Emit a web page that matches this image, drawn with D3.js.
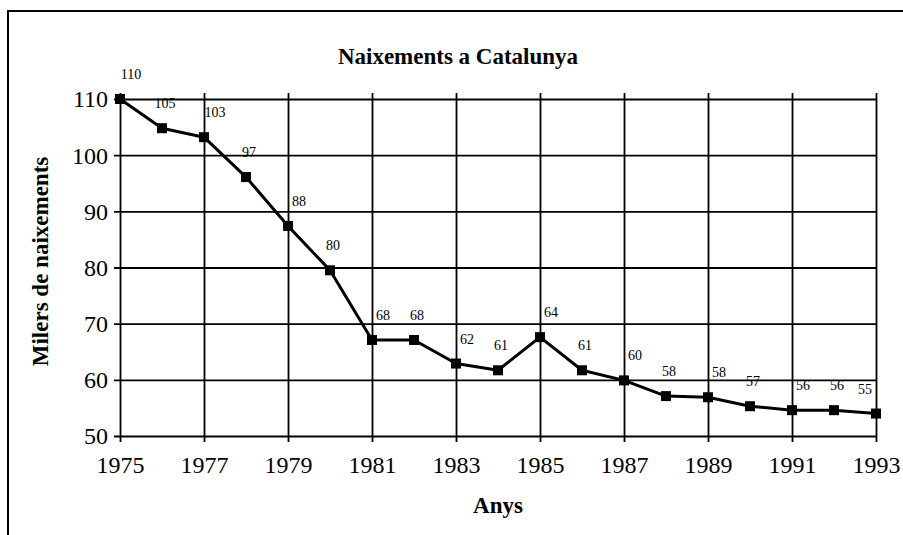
<!DOCTYPE html>
<html lang="ca">
<head>
    <meta charset="UTF-8">
    <title>Naixements a Catalunya</title>
    <script src="https://d3js.org/d3.v7.min.js"></script>
    <style>
        body { margin: 0; background: #fff; }
        svg { display: block; font-family: "Liberation Serif", "Times New Roman", serif; }
    </style>
</head>
<body>
<div id="chart"></div>

<script>
    // values (thousands of births)
    const years = [1975, 1976, 1977, 1978, 1979, 1980, 1981, 1982, 1983, 1984,
                   1985, 1986, 1987, 1988, 1989, 1990, 1991, 1992, 1993];
    const births = [110, 104.8, 103.2, 96.1, 87.4, 79.5, 67.1, 67.1, 62.9, 61.7,
                    67.6, 61.7, 59.9, 57.1, 56.9, 55.3, 54.6, 54.6, 54.0];
    // the printed labels, as they stand in the picture
    const pointLabels = [110, 105, 103, 97, 88, 80, 68, 68, 62, 61,
                         64, 61, 60, 58, 58, 57, 56, 56, 55];
    const yTicks = [50, 60, 70, 80, 90, 100, 110];
    const xTicks = [1975, 1977, 1979, 1981, 1983, 1985, 1987, 1989, 1991, 1993];

    const W = 903, H = 535;
    const plotL = 120, plotR = 876, plotT = 99, plotB = 436;

    const svg = d3.select("#chart").append("svg")
        .attr("width", W)
        .attr("height", H);

    // frame, only top and left edges are visible in the picture
    svg.append("path")
        .attr("d", `M8,${H} L8,11 L${W},11`)
        .attr("fill", "none")
        .attr("stroke", "#000")
        .attr("stroke-width", 2);

    const x = d3.scaleLinear().domain([1975, 1993]).range([plotL, plotR]);
    const y = d3.scaleLinear().domain([50, 110]).range([plotB, plotT]);

    // horizontal grid + y labels
    const yAxis = svg.append("g")
        .attr("transform", `translate(${plotL},0)`)
        .call(d3.axisLeft(y).tickValues(yTicks).tickSize(6).tickPadding(6));
    yAxis.select(".domain").remove();
    yAxis.selectAll(".tick line")
        .attr("x1", -6).attr("x2", plotR - plotL)
        .attr("stroke", "#000").attr("stroke-width", 1.8);
    yAxis.selectAll(".tick text")
        .attr("x", -12)
        .attr("dy", "0.33em")
        .style("font-size", "24px")
        .style("font-family", "Liberation Serif");

    // vertical grid + x labels
    const xAxis = svg.append("g")
        .attr("transform", `translate(0,${plotB})`)
        .call(d3.axisBottom(x).tickValues(xTicks).tickFormat(d3.format("d")).tickSize(6));
    xAxis.select(".domain").remove();
    xAxis.selectAll(".tick line")
        .attr("y1", 6).attr("y2", -(plotB - plotT) - 6)
        .attr("stroke", "#000").attr("stroke-width", 1.8);
    xAxis.selectAll(".tick text")
        .attr("y", 37)
        .attr("dy", 0)
        .style("font-size", "24px")
        .style("font-family", "Liberation Serif");

    const pts = years.map((yr, i) => ({year: yr, val: births[i], label: pointLabels[i]}));

    const line = d3.line().x(d => x(d.year)).y(d => y(d.val));

    svg.append("path")
        .datum(pts)
        .attr("d", line)
        .attr("fill", "none")
        .attr("stroke", "#000")
        .attr("stroke-width", 3)
        .attr("stroke-linejoin", "round");

    svg.append("g").selectAll("rect")
        .data(pts)
        .join("rect")
        .attr("x", d => x(d.year) - 5)
        .attr("y", d => y(d.val) - 5)
        .attr("width", 10)
        .attr("height", 10)
        .attr("fill", "#000");

    // labels sit above the point, pushed right when the point is on a grid line,
    // but kept inside the plot on the right edge
    svg.append("g").selectAll("text")
        .data(pts)
        .join("text")
        .attr("x", d => Math.min(x(d.year) + (d.year % 2 ? 11 : 3), plotR - 11))
        .attr("y", d => y(d.val) - 20)
        .attr("text-anchor", "middle")
        .style("font-size", "14px")
        .text(d => d.label);

    svg.append("text")
        .attr("x", (plotL + plotR) / 2 - 40)
        .attr("y", 64)
        .attr("text-anchor", "middle")
        .style("font-size", "23px")
        .style("font-weight", "bold")
        .text("Naixements a Catalunya");

    svg.append("text")
        .attr("transform", `translate(48,${(plotT + plotB) / 2 - 6}) rotate(-90)`)
        .attr("text-anchor", "middle")
        .style("font-size", "23px")
        .style("font-weight", "bold")
        .text("Milers de naixements");

    svg.append("text")
        .attr("x", (plotL + plotR) / 2)
        .attr("y", 513)
        .attr("text-anchor", "middle")
        .style("font-size", "23px")
        .style("font-weight", "bold")
        .text("Anys");
</script>
</body>
</html>
